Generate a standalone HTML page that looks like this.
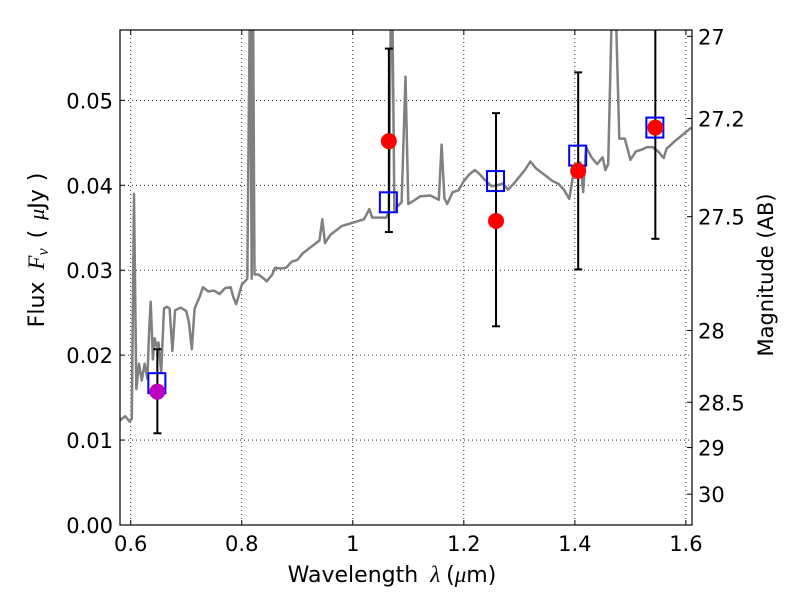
<!DOCTYPE html>
<html><head><meta charset="utf-8"><style>
body{margin:0;background:#fff;}
svg text{font-family:"DejaVu Sans","Liberation Sans",sans-serif;}
</style></head><body>
<svg id="chart" width="800" height="600" xmlns="http://www.w3.org/2000/svg">
<rect width="800" height="600" fill="#fff"/>
<defs><clipPath id="clip"><rect x="120" y="30" width="572" height="495"/></clipPath></defs>
<g id="grid"></g>
<g id="plot" clip-path="url(#clip)"></g>
<rect x="120" y="30" width="572" height="495" fill="none" stroke="#000" stroke-width="1.2"/>
<g id="axes"></g>
<text x="0" y="0" transform="translate(44,250) rotate(-90)" font-size="22" text-anchor="middle">Flux<tspan dx="12" font-family="Liberation Serif" font-style="italic" font-size="23">F<tspan font-size="16" dy="4">ν</tspan></tspan><tspan dy="-4" dx="10">(</tspan><tspan dx="10" font-family="Liberation Serif" font-style="italic">μ</tspan>Jy<tspan dx="8">)</tspan></text>
<text x="0" y="0" transform="translate(773,275) rotate(-90)" font-size="21" text-anchor="middle">Magnitude (AB)</text>
<text x="392" y="582" font-size="22" text-anchor="middle">Wavelength<tspan dx="12" font-family="Liberation Serif" font-style="italic" font-size="23">λ</tspan><tspan dx="6">(</tspan><tspan font-family="Liberation Serif" font-style="italic" font-size="23">μ</tspan>m)</text>
</svg>
<script>
const specLam=[0.58,0.59,0.598,0.602,0.606,0.61,0.615,0.62,0.625,0.63,0.633,0.636,0.64,0.643,0.647,0.65,0.655,0.66,0.665,0.67,0.675,0.68,0.69,0.7,0.705,0.71,0.715,0.725,0.73,0.74,0.75,0.76,0.77,0.78,0.785,0.79,0.8,0.81,0.815,0.818,0.82,0.823,0.83,0.84,0.845,0.855,0.86,0.87,0.88,0.89,0.9,0.91,0.92,0.93,0.94,0.945,0.95,0.96,0.98,1.0,1.02,1.03,1.035,1.06,1.065,1.07,1.075,1.08,1.088,1.095,1.1,1.11,1.121,1.14,1.155,1.16,1.165,1.17,1.18,1.19,1.2,1.21,1.22,1.23,1.24,1.25,1.26,1.27,1.28,1.29,1.3,1.31,1.32,1.33,1.34,1.35,1.36,1.37,1.38,1.39,1.4,1.41,1.415,1.42,1.43,1.44,1.45,1.455,1.46,1.47,1.48,1.49,1.5,1.51,1.52,1.53,1.54,1.55,1.56,1.565,1.58,1.595,1.61];
const specFlux=[0.0123,0.0128,0.0122,0.0125,0.039,0.016,0.019,0.017,0.019,0.0172,0.0225,0.0263,0.0195,0.022,0.021,0.0215,0.018,0.0255,0.0257,0.0255,0.0205,0.0253,0.0256,0.0252,0.0238,0.0207,0.0255,0.027,0.028,0.0275,0.0276,0.0272,0.0279,0.028,0.0268,0.026,0.0283,0.029,0.065,0.029,0.065,0.0295,0.0295,0.029,0.0287,0.0295,0.0303,0.0302,0.0303,0.031,0.0312,0.032,0.0325,0.033,0.0335,0.036,0.0332,0.0342,0.0352,0.0356,0.036,0.0372,0.0362,0.0362,0.0368,0.07,0.037,0.0375,0.038,0.0528,0.0378,0.0382,0.0387,0.0388,0.0383,0.0448,0.0385,0.0378,0.0392,0.0394,0.0405,0.0413,0.0418,0.0412,0.0405,0.0399,0.04,0.0402,0.0395,0.0402,0.041,0.0418,0.0428,0.042,0.0415,0.041,0.0405,0.0402,0.0395,0.0384,0.0425,0.0427,0.0392,0.0445,0.0433,0.0425,0.0433,0.0418,0.0425,0.07,0.0455,0.0455,0.043,0.044,0.0442,0.0445,0.0445,0.044,0.0432,0.0443,0.0452,0.046,0.0468];
const ptLam=[0.648,1.065,1.258,1.406,1.545];
const ptFlux=[0.0157,0.0452,0.0358,0.0417,0.0468];
const errLo=[0.0108,0.0345,0.0234,0.0301,0.0337];
const errHi=[0.0207,0.0561,0.0485,0.0533,0.065];
const modelFlux=[0.0167,0.0380,0.0405,0.0435,0.0468];
const ptColors=["#bf00bf","#ff0000","#ff0000","#ff0000","#ff0000"];
const xTicks=[0.6,0.8,1.0,1.2,1.4,1.6];
const xTickLabels=["0.6","0.8","1","1.2","1.4","1.6"];
const yTicks=[0,0.01,0.02,0.03,0.04,0.05];
const yTickLabels=["0.00","0.01","0.02","0.03","0.04","0.05"];
const magTicks=[27,27.2,27.5,28,28.5,29,30];
const magTickLabels=["27","27.2","27.5","28","28.5","29","30"];

const X0=120,X1=692,Y0=525,Y1=30,XMIN=0.5807,XMAX=1.611,YMIN=0,YMAX=0.05829;
const xs=v=>X0+(v-XMIN)/(XMAX-XMIN)*(X1-X0);
const ys=v=>Y0-(v-YMIN)/(YMAX-YMIN)*(Y0-Y1);
const magToFlux=m=>Math.pow(10,(23.9-m)/2.5);
const NS="http://www.w3.org/2000/svg";
function mk(tag,attrs,parent){const e=document.createElementNS(NS,tag);for(const k in attrs)e.setAttribute(k,attrs[k]);parent.appendChild(e);return e;}
const grid=document.getElementById('grid'),plot=document.getElementById('plot'),axes=document.getElementById('axes');

xTicks.forEach((t,i)=>{const x=xs(t);
 const g=mk('line',{x1:x,x2:x,y1:Y1,y2:Y0,stroke:'#000','stroke-width':0.8,'stroke-dasharray':'1,3'},grid);
 
 
 mk('line',{x1:x,x2:x,y1:Y0,y2:Y0-5,stroke:'#000'},axes);
 mk('line',{x1:x,x2:x,y1:Y1,y2:Y1+5,stroke:'#000'},axes);
 const tx=mk('text',{x:x,y:Y0+26,'font-size':21,'text-anchor':'middle'},axes);tx.textContent=xTickLabels[i];
 
 
});
yTicks.forEach((t,i)=>{const y=ys(t);
 const g=mk('line',{x1:X0,x2:X1,y1:y,y2:y,stroke:'#000','stroke-width':0.8,'stroke-dasharray':'1,3'},grid);
 
 
 mk('line',{x1:X0,x2:X0+5,y1:y,y2:y,stroke:'#000'},axes);
 const tx=mk('text',{x:X0-7,y:y+8,'font-size':21,'text-anchor':'end'},axes);tx.textContent=yTickLabels[i];
 
 
});
magTicks.forEach((m,i)=>{const y=ys(magToFlux(m));
 mk('line',{x1:X1-5,x2:X1,y1:y,y2:y,stroke:'#000'},axes);
 const tx=mk('text',{x:X1+6,y:y+8,'font-size':21},axes);tx.textContent=magTickLabels[i];
 
 
});
const d=specLam.map((l,i)=>(i?'L':'M')+xs(l).toFixed(1)+','+ys(specFlux[i]).toFixed(1)).join(' ');
const sp=mk('path',{d:d,fill:'none',stroke:'#808080','stroke-width':2.5,'stroke-linejoin':'round'},plot);


ptLam.forEach((l,i)=>{const x=xs(l);
 const eb=mk('g',{},plot);
 
 
 mk('line',{x1:x,x2:x,y1:ys(errLo[i]),y2:ys(errHi[i]),stroke:'#000','stroke-width':2},eb);
 mk('line',{x1:x-4,x2:x+4,y1:ys(errLo[i]),y2:ys(errLo[i]),stroke:'#000','stroke-width':2},eb);
 mk('line',{x1:x-4,x2:x+4,y1:ys(errHi[i]),y2:ys(errHi[i]),stroke:'#000','stroke-width':2},eb);
 const sq=mk('rect',{x:x-9,y:ys(modelFlux[i])-10,width:17,height:20,fill:'none',stroke:'#0000ff','stroke-width':2},plot);
 
 
 const c=mk('circle',{cx:x,cy:ys(ptFlux[i]),r:8,fill:ptColors[i]},plot);
 
 
});
</script>
</body></html>
